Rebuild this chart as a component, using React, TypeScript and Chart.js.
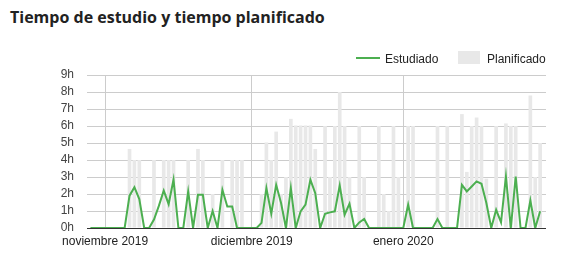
import React, { useEffect, useRef } from "react";
import { Chart, registerables } from "chart.js";

Chart.register(...registerables);

// Days from 29 Oct 2019 to 29 Jan 2020
const dates = [
  "2019-10-29", "2019-10-30", "2019-10-31",
  "2019-11-01", "2019-11-02", "2019-11-03", "2019-11-04", "2019-11-05", "2019-11-06", "2019-11-07", "2019-11-08", "2019-11-09", "2019-11-10",
  "2019-11-11", "2019-11-12", "2019-11-13", "2019-11-14", "2019-11-15", "2019-11-16", "2019-11-17", "2019-11-18", "2019-11-19", "2019-11-20",
  "2019-11-21", "2019-11-22", "2019-11-23", "2019-11-24", "2019-11-25", "2019-11-26", "2019-11-27", "2019-11-28", "2019-11-29", "2019-11-30",
  "2019-12-01", "2019-12-02", "2019-12-03", "2019-12-04", "2019-12-05", "2019-12-06", "2019-12-07", "2019-12-08", "2019-12-09", "2019-12-10",
  "2019-12-11", "2019-12-12", "2019-12-13", "2019-12-14", "2019-12-15", "2019-12-16", "2019-12-17", "2019-12-18", "2019-12-19", "2019-12-20",
  "2019-12-21", "2019-12-22", "2019-12-23", "2019-12-24", "2019-12-25", "2019-12-26", "2019-12-27", "2019-12-28", "2019-12-29", "2019-12-30", "2019-12-31",
  "2020-01-01", "2020-01-02", "2020-01-03", "2020-01-04", "2020-01-05", "2020-01-06", "2020-01-07", "2020-01-08", "2020-01-09", "2020-01-10",
  "2020-01-11", "2020-01-12", "2020-01-13", "2020-01-14", "2020-01-15", "2020-01-16", "2020-01-17", "2020-01-18", "2020-01-19", "2020-01-20",
  "2020-01-21", "2020-01-22", "2020-01-23", "2020-01-24", "2020-01-25", "2020-01-26", "2020-01-27", "2020-01-28", "2020-01-29",
];

// Hours studied per day
const estudiado = [
  0, 0, 0,
  0, 0, 0, 0, 0, 1.9, 2.4, 1.7, 0, 0,
  0.5, 1.3, 2.2, 1.4, 2.85, 0, 0, 2.15, 0, 1.95,
  1.95, 0, 1.0, 0, 2.25, 1.27, 1.27, 0, 0, 0,
  0, 0, 0.3, 2.35, 0.84, 2.54, 1.47, 0, 2.35, 0,
  0.98, 1.37, 2.84, 2.05, 0, 0.84, 0.92, 0.98, 2.5, 0.78,
  1.43, 0, 0.33, 0.53, 0, 0, 0, 0, 0, 0, 0,
  0, 1.37, 0, 0, 0, 0, 0, 0.53, 0, 0,
  0, 0, 2.54, 2.15, 2.44, 2.74, 2.6, 1.47, 0, 1.07,
  0.33, 3.03, 0, 3.03, 0, 0, 1.62, 0, 0.98,
];

// Hours planned per day
const planificado = [
  null, null, null,
  null, null, null, null, null, 4.65, 4, 4, null, null,
  4, null, 4, 4, 4, null, null, 4, null, 4.65,
  4, null, 2, null, 4, null, 4, 4, 4, null,
  null, null, 2, 5.03, 4, 5.67, 2, 3, 6.42, 6.03,
  6.03, 6.03, 6.03, 4.65, null, 6, 3, 6, 8, 6,
  3, null, 6, 3, null, null, 6, 2, 1, 6, 3,
  null, 6, 6, null, null, null, null, 6, null, 6,
  null, null, 6.7, 3.3, 6, 6.5, 6, 2.9, null, 6,
  null, 6.15, 6, 6, null, null, 7.8, 3, 5,
];

const monthTickDates = ["2019-11-01", "2019-12-01", "2020-01-01"];
const monthTickLabels = ["noviembre 2019", "diciembre 2019", "enero 2020"];
const hourTicks = [0, 1, 2, 3, 4, 5, 6, 7, 8, 9];

const DAY = 86400000;
const ORIGIN = Date.parse("2019-11-01");
const dayOf = (s: string) => Math.round((Date.parse(s) - ORIGIN) / DAY);

const GREEN = "#4caf50";
const GREY_BAR = "#e8e8e8";
const FONT = "'Liberation Sans', Arial, sans-serif";

export default function App() {
  const ref = useRef<HTMLCanvasElement | null>(null);

  useEffect(() => {
    if (!ref.current) return;
    const xs = dates.map(dayOf);
    const tickDays = monthTickDates.map(dayOf);
    const chart = new Chart(ref.current, {
      type: "bar",
      data: {
        datasets: [
          {
            type: "line",
            label: "Estudiado",
            data: xs.map((x, i) => ({ x, y: estudiado[i] })),
            borderColor: GREEN,
            backgroundColor: GREEN,
            borderWidth: 2,
            pointRadius: 0,
            tension: 0,
            order: 0,
          } as any,
          {
            type: "bar",
            label: "Planificado",
            data: xs.map((x, i) => ({ x, y: planificado[i] })),
            backgroundColor: GREY_BAR,
            borderWidth: 0,
            categoryPercentage: 1,
            barPercentage: 0.75,
            order: 1,
          } as any,
        ],
      },
      options: {
        responsive: false,
        animation: false,
        events: [],
        layout: { padding: { left: 0, right: 25, top: 75, bottom: 0 } },
        plugins: { legend: { display: false }, tooltip: { enabled: false }, title: { display: false } },
        scales: {
          x: {
            type: "linear",
            min: -3.7,
            max: 90.2,
            offset: false,
            grid: { color: "#cccccc", drawTicks: false, offset: false, lineWidth: 1 },
            border: { display: false },
            afterBuildTicks: (axis: any) => {
              axis.ticks = tickDays.map((v) => ({ value: v }));
            },
            afterFit: (axis: any) => {
              axis.height = 32;
            },
            ticks: {
              autoSkip: false,
              maxRotation: 0,
              padding: 6,
              color: "#222222",
              font: { family: FONT, size: 12 },
              callback: (v: any) => {
                const i = tickDays.indexOf(Number(v));
                return i >= 0 ? monthTickLabels[i] : "";
              },
            },
          },
          y: {
            min: 0,
            max: 9,
            afterBuildTicks: (axis: any) => {
              axis.ticks = hourTicks.map((v) => ({ value: v }));
            },
            afterFit: (axis: any) => {
              axis.width = 87;
            },
            grid: {
              drawTicks: false,
              color: (ctx: any) => (ctx.tick && ctx.tick.value === 0 ? "#333333" : "#cccccc"),
              lineWidth: 1,
            },
            border: { display: false },
            ticks: {
              autoSkip: false,
              padding: 13,
              color: "#444444",
              font: { family: FONT, size: 12 },
              callback: (v: any) => `${v}h`,
            },
          },
        },
      },
    });
    return () => chart.destroy();
  }, []);

  return (
    <div style={{ position: "absolute", left: 0, top: 0, width: 571, height: 260, background: "#ffffff", overflow: "hidden" }}>
      <div
        style={{
          position: "absolute",
          left: 10,
          top: 7,
          fontFamily: "'Open Sans', sans-serif",
          fontWeight: 700,
          fontSize: 16,
          lineHeight: "20px",
          color: "#222222",
          whiteSpace: "nowrap",
        }}
      >
        Tiempo de estudio y tiempo planificado
      </div>
      <canvas ref={ref} width={571} height={260} style={{ position: "absolute", left: 0, top: 0, width: 571, height: 260 }} />
      <div style={{ position: "absolute", left: 356, top: 57, width: 24, height: 2, background: GREEN }} />
      <div style={{ position: "absolute", left: 385, top: 52, fontFamily: FONT, fontSize: 12, lineHeight: "14px", color: "#222222", whiteSpace: "nowrap" }}>
        Estudiado
      </div>
      <div style={{ position: "absolute", left: 458, top: 51, width: 22, height: 13, background: GREY_BAR }} />
      <div style={{ position: "absolute", left: 487, top: 52, fontFamily: FONT, fontSize: 12, lineHeight: "14px", color: "#222222", whiteSpace: "nowrap" }}>
        Planificado
      </div>
    </div>
  );
}
